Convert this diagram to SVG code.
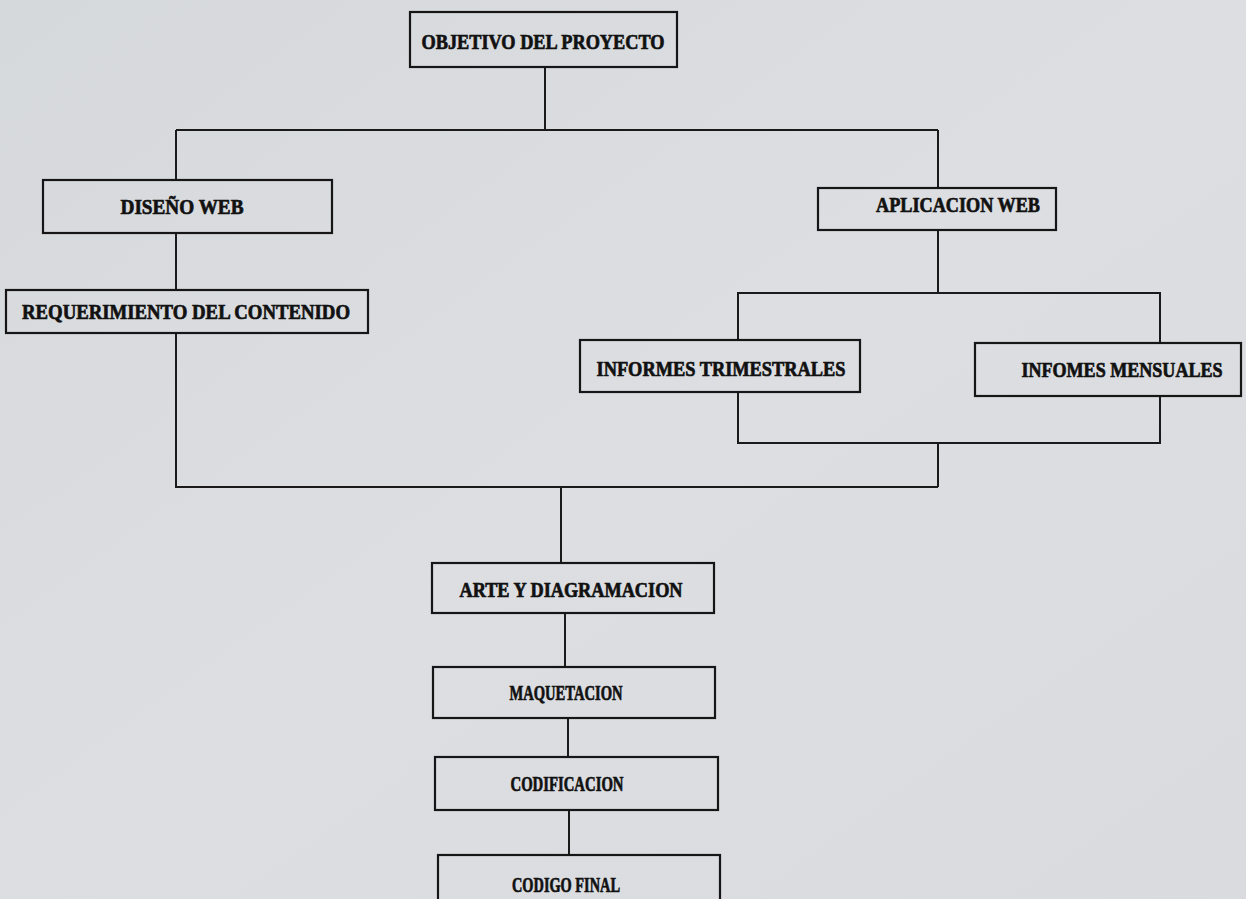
<svg xmlns="http://www.w3.org/2000/svg" width="1246" height="899" viewBox="0 0 1246 899">
<defs>
<linearGradient id="bg" x1="0" y1="0" x2="1" y2="1">
<stop offset="0" stop-color="#d6d9dc"/>
<stop offset="0.5" stop-color="#dcdee1"/>
<stop offset="1" stop-color="#d9dbde"/>
</linearGradient>
<style>
.box{fill:none;stroke:#161616;stroke-width:2.2}
.lbl{font-family:"Liberation Serif","DejaVu Serif",serif;font-weight:bold;font-size:21px;fill:#111;stroke:#111;stroke-width:0.7;text-anchor:middle}
.con{fill:none;stroke:#1a1a1a;stroke-width:2}
</style>
</defs>
<rect x="0" y="0" width="1246" height="899" fill="url(#bg)"/>
<g id="connectors">
<path class="con" d="M545,67 V130"/>
<path class="con" d="M176,130 H938"/>
<path class="con" d="M176,130 V180"/>
<path class="con" d="M176,233 V290"/>
<path class="con" d="M176,333 V487 H938"/>
<path class="con" d="M938,130 V188"/>
<path class="con" d="M938,230 V293"/>
<path class="con" d="M738,340 V293 H1160 V343"/>
<path class="con" d="M738,392 V443 H1160 V396"/>
<path class="con" d="M938,443 V487"/>
<path class="con" d="M561,487 V563"/>
<path class="con" d="M565,613 V667"/>
<path class="con" d="M568,718 V757"/>
<path class="con" d="M569,810 V855"/>
</g>
<g id="n-objetivo"><rect class="box" x="410" y="12" width="267" height="55"/><text class="lbl" x="543" y="49" textLength="243" lengthAdjust="spacingAndGlyphs">OBJETIVO DEL PROYECTO</text></g>
<g id="n-diseno"><rect class="box" x="43" y="180" width="289" height="53"/><text class="lbl" x="182" y="214" textLength="123" lengthAdjust="spacingAndGlyphs">DISEÑO WEB</text></g>
<g id="n-requerimiento"><rect class="box" x="6" y="290" width="362" height="43"/><text class="lbl" x="186" y="319" textLength="328" lengthAdjust="spacingAndGlyphs">REQUERIMIENTO DEL CONTENIDO</text></g>
<g id="n-aplicacion"><rect class="box" x="818" y="188" width="238" height="42"/><text class="lbl" x="958" y="212" textLength="164" lengthAdjust="spacingAndGlyphs">APLICACION WEB</text></g>
<g id="n-trimestrales"><rect class="box" x="580" y="340" width="280" height="52"/><text class="lbl" x="721" y="376" textLength="249" lengthAdjust="spacingAndGlyphs">INFORMES TRIMESTRALES</text></g>
<g id="n-mensuales"><rect class="box" x="975" y="343" width="266" height="53"/><text class="lbl" transform="translate(1122,377) scale(0.86,1)" x="0" y="0">INFOMES MENSUALES</text></g>
<g id="n-arte"><rect class="box" x="432" y="563" width="282" height="50"/><text class="lbl" x="571" y="597" textLength="223" lengthAdjust="spacingAndGlyphs">ARTE Y DIAGRAMACION</text></g>
<g id="n-maquetacion"><rect class="box" x="433" y="667" width="282" height="51"/><text class="lbl" x="566" y="700" textLength="113" lengthAdjust="spacingAndGlyphs">MAQUETACION</text></g>
<g id="n-codificacion"><rect class="box" x="435" y="757" width="283" height="53"/><text class="lbl" x="567" y="791" textLength="113" lengthAdjust="spacingAndGlyphs">CODIFICACION</text></g>
<g id="n-codigo"><rect class="box" x="438" y="855" width="282" height="60"/><text class="lbl" x="566" y="892" textLength="108" lengthAdjust="spacingAndGlyphs">CODIGO FINAL</text></g>
</svg>
